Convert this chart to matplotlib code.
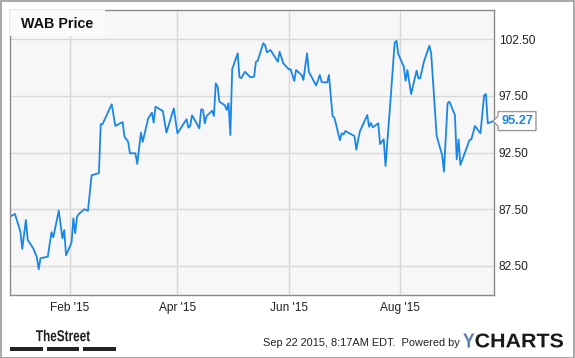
import matplotlib
matplotlib.use('Agg')
import matplotlib.pyplot as plt
from matplotlib.patches import Rectangle, Polygon, PathPatch
from matplotlib.textpath import TextPath
from matplotlib.font_manager import FontProperties
from matplotlib.transforms import Affine2D, IdentityTransform
import pandas as pd

# WAB closing prices (turning points only)
dates = [
    '2014-12-31', '2015-01-02', '2015-01-05', '2015-01-06', '2015-01-08', '2015-01-09',
    '2015-01-12', '2015-01-14', '2015-01-15', '2015-01-16', '2015-01-20', '2015-01-22',
    '2015-01-23', '2015-01-26', '2015-01-28', '2015-01-29', '2015-01-30', '2015-02-02',
    '2015-02-03', '2015-02-04', '2015-02-05', '2015-02-06', '2015-02-09', '2015-02-11',
    '2015-02-13', '2015-02-17', '2015-02-18', '2015-02-19', '2015-02-24', '2015-02-26',
    '2015-03-02', '2015-03-03', '2015-03-05', '2015-03-06', '2015-03-09', '2015-03-10',
    '2015-03-12', '2015-03-13', '2015-03-16', '2015-03-18', '2015-03-19', '2015-03-20',
    '2015-03-24', '2015-03-26', '2015-03-30', '2015-04-01', '2015-04-06', '2015-04-07',
    '2015-04-08', '2015-04-09', '2015-04-10', '2015-04-13', '2015-04-14', '2015-04-15',
    '2015-04-16', '2015-04-17', '2015-04-20', '2015-04-21', '2015-04-22', '2015-04-23',
    '2015-04-24', '2015-04-27', '2015-04-28', '2015-04-29', '2015-04-30', '2015-05-01',
    '2015-05-04', '2015-05-05', '2015-05-06', '2015-05-08', '2015-05-11', '2015-05-13',
    '2015-05-14', '2015-05-15', '2015-05-18', '2015-05-19', '2015-05-20', '2015-05-22',
    '2015-05-26', '2015-05-27', '2015-05-29', '2015-06-01', '2015-06-02', '2015-06-04',
    '2015-06-05', '2015-06-08', '2015-06-09', '2015-06-11', '2015-06-12', '2015-06-16',
    '2015-06-18', '2015-06-19', '2015-06-22', '2015-06-23', '2015-06-25', '2015-06-26',
    '2015-06-29', '2015-06-30', '2015-07-01', '2015-07-02', '2015-07-06', '2015-07-07',
    '2015-07-08', '2015-07-09', '2015-07-10', '2015-07-14', '2015-07-15', '2015-07-16',
    '2015-07-17', '2015-07-20', '2015-07-21', '2015-07-23', '2015-07-24', '2015-07-27',
    '2015-07-29', '2015-07-30', '2015-07-31', '2015-08-03', '2015-08-04', '2015-08-05',
    '2015-08-07', '2015-08-10', '2015-08-11', '2015-08-12', '2015-08-14', '2015-08-17',
    '2015-08-18', '2015-08-21', '2015-08-24', '2015-08-25', '2015-08-27', '2015-08-28',
    '2015-08-31', '2015-09-01', '2015-09-02', '2015-09-03', '2015-09-08', '2015-09-09',
    '2015-09-11', '2015-09-14', '2015-09-16', '2015-09-17', '2015-09-18', '2015-09-21',
]
prices = [
    86.91, 87.08, 85.52, 84.00, 86.55, 84.79,
    84.06, 83.27, 82.21, 83.18, 83.32, 85.47,
    85.03, 87.37, 84.94, 85.67, 83.44, 84.55,
    86.70, 85.38, 86.84, 87.08, 87.50, 87.37,
    90.49, 90.69, 94.99, 95.01, 96.75, 94.84,
    95.19, 93.89, 93.45, 92.43, 92.43, 91.49,
    94.25, 93.45, 95.51, 96.01, 95.13, 96.54,
    96.16, 94.25, 96.39, 94.19, 95.43, 94.69,
    94.84, 95.78, 95.51, 94.63, 96.31, 96.25,
    95.07, 95.72, 96.18, 95.72, 98.60, 98.30,
    96.98, 96.66, 96.25, 96.84, 94.04, 99.83,
    101.24, 99.13, 99.06, 99.62, 99.13, 99.18,
    100.50, 100.59, 102.12, 101.97, 101.33, 101.53,
    100.50, 101.38, 100.36, 99.83, 99.83, 98.80,
    99.77, 99.33, 98.89, 101.24, 99.62, 98.40,
    99.33, 98.71, 98.67, 99.33, 95.69, 95.57,
    93.58, 94.19, 94.09, 94.39, 94.04, 93.95,
    92.75, 93.63, 94.39, 95.80, 94.77, 95.10,
    94.72, 95.07, 93.25, 93.66, 91.31, 97.70,
    102.17, 102.35, 101.18, 100.06, 98.83, 99.77,
    97.65, 99.71, 99.04, 99.04, 100.50, 101.91,
    101.24, 93.95, 92.28, 90.81, 96.84, 96.98,
    95.80, 91.90, 93.66, 91.40, 93.60, 93.66,
    94.84, 94.19, 97.54, 97.65, 95.07, 95.27,
]

ytick_vals = [82.5, 87.5, 92.5, 97.5, 102.5]
xtick_dates = ['2015-02-01', '2015-04-01', '2015-06-01', '2015-08-01']
xtick_labels = ["Feb '15", "Apr '15", "Jun '15", "Aug '15"]

plt.rcParams['font.family'] = ['Liberation Sans', 'DejaVu Sans']

x = pd.to_datetime(dates)
W, H = 575, 358
fig = plt.figure(figsize=(W / 100, H / 100), dpi=100)
fig.patch.set_facecolor('white')
px = IdentityTransform()  # pixel coords, origin bottom-left


def add_text_fit(s, x0, y_top, w, h, color, weight='bold'):
    # draw text squeezed into a pixel box (used for the condensed logo)
    tp = TextPath((0, 0), s, size=20, prop=FontProperties(family='Liberation Sans', weight=weight))
    ext = tp.get_extents()
    tr = Affine2D().translate(-ext.x0, -ext.y0).scale(w / ext.width, h / ext.height) \
        .translate(x0, H - y_top - h)
    fig.patches.append(PathPatch(tr.transform_path(tp), transform=px, facecolor=color,
                                 edgecolor='none'))


# outer frame
fig.patches.append(Rectangle((0.5 / W, 0.5 / H), 1 - 1.5 / W, 1 - 1.5 / H,
                             transform=fig.transFigure, fill=False,
                             edgecolor='#999999', lw=1.2))

ax = fig.add_axes([10 / W, (H - 295) / H, 484 / W, 285 / H])
ax.set_facecolor('#f7f7f7')
line_color = '#1a87e8'
ax.plot(x, prices, color=line_color, lw=1.3)

ax.set_xlim(pd.Timestamp('2014-12-30 07:00'), pd.Timestamp('2015-09-21 10:00'))
ax.set_ylim(79.94, 105.06)

ax.set_yticks(ytick_vals)
ax.set_yticklabels(['%.2f' % v for v in ytick_vals])
ax.yaxis.tick_right()
ax.set_xticks(pd.to_datetime(xtick_dates))
ax.set_xticklabels(xtick_labels)
ax.tick_params(axis='both', length=0, labelsize=8.6, colors='#222222')
ax.tick_params(axis='y', pad=3.5)
ax.tick_params(axis='x', pad=5)
ax.grid(True, color='#d8d8d8', lw=1)
ax.set_axisbelow(True)
for s in ax.spines.values():
    s.set_color('#8a8a8a')
    s.set_linewidth(1)

# title box
ax.add_patch(Rectangle((0, 1 - 26 / 285), 95 / 484, 26 / 285, transform=ax.transAxes,
                       facecolor='#fbfbfb', edgecolor='none', zorder=3))
ax.text(11 / 484, 1 - 13.5 / 285, 'WAB Price', transform=ax.transAxes,
        fontsize=10.3, fontweight='bold', color='#111111', va='center', ha='left', zorder=4)

# last price tag, pointing at the end of the line
last = prices[-1]
yl = ax.transData.transform((0, last))[1]
tag = [(493, yl), (498, yl + 5), (498, yl + 9.5), (536, yl + 9.5),
       (536, yl - 9.5), (498, yl - 9.5), (498, yl - 5)]
fig.patches.append(Polygon(tag, closed=True, transform=px, facecolor='white',
                           edgecolor='#999999', lw=1))
fig.text(517 / W, yl / H, '%.2f' % last, fontsize=9.2, fontweight='bold',
         color=line_color, ha='center', va='center')

# footer
add_text_fit('TheStreet', 36, 329.7, 54, 11.6, '#1e1e1e')
for x0, x1 in [(10, 42.5), (47.3, 79), (83.3, 115.7)]:
    fig.patches.append(Rectangle((x0, H - 350.5), x1 - x0, 3.2, transform=px,
                                 facecolor='#222222', edgecolor='none'))
fig.text(460 / W, 1 - 346 / H, 'Sep 22 2015, 8:17AM EDT.  Powered by', fontsize=7.9,
         color='#222222', ha='right', va='baseline')
add_text_fit('Y', 463.3, 333.5, 11, 14, '#5b7ab8')
add_text_fit('CHARTS', 475.5, 333.5, 87.5, 14, '#1a1a1a')

fig.savefig('out.png', dpi=100)
